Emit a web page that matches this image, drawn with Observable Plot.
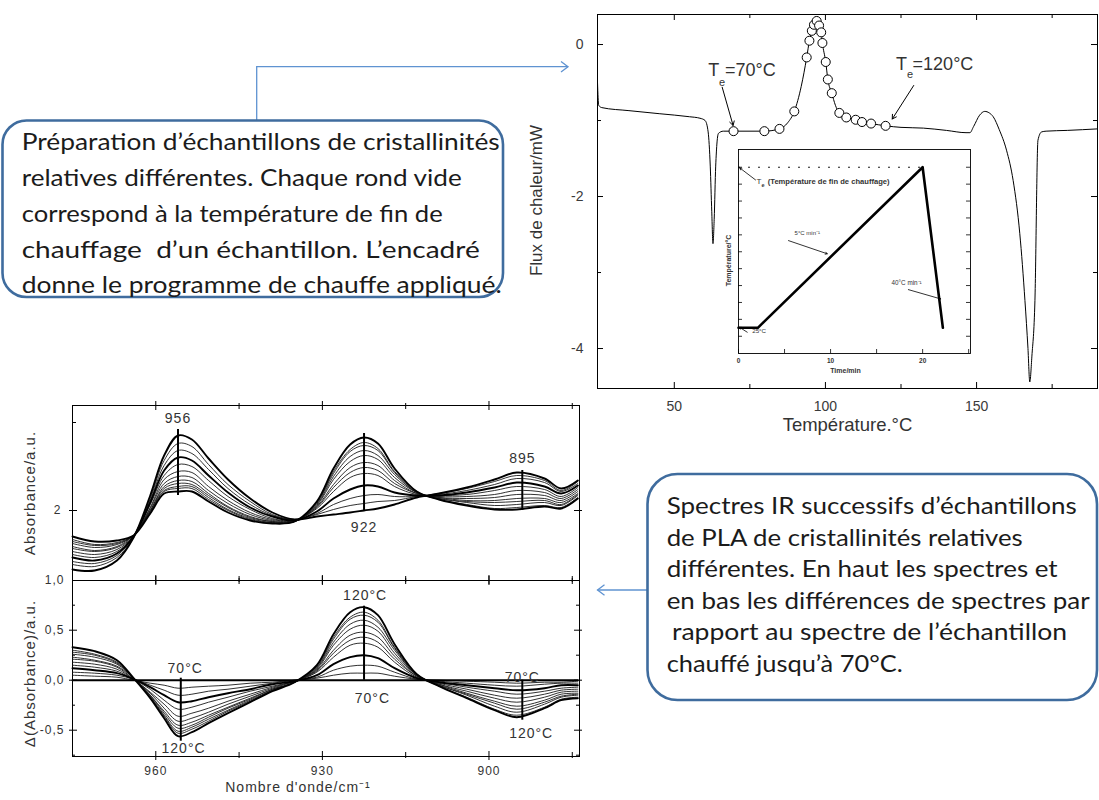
<!DOCTYPE html>
<html><head><meta charset="utf-8">
<script src="https://cdn.jsdelivr.net/npm/d3@7"></script>
<script src="https://cdn.jsdelivr.net/npm/@observablehq/plot@0.6"></script>
<style>
html,body{margin:0;padding:0;background:#fff;}
#root{position:relative;width:1099px;height:800px;overflow:hidden;}
#root > *{position:absolute;}
</style></head><body><div id="root"></div>
<script>
// ---------------- DATA ----------------
// DSC curve (Température °C, Flux de chaleur mW)
const dscT = [24.6,25.0,26.0,35,45,55,58.5,60.2,61.2,61.9,62.4,62.8,63.2,63.7,64.6,66.2,69.6,79.8,84.8,87.5,89.7,92,93.8,94.7,95.5,96.2,97.1,97.9,98.6,99.0,100.1,100.8,102.1,103.3,104.6,106.9,110.0,112.1,115.1,119.9,125,132.4,140,146.5,147.8,149.0,151,152.7,154.2,155.5,157.5,159.9,162.1,164.3,166.0,167.0,167.6,168.3,169.3,170.3,171.5,173,180,190];
const dscFlux = [-0.50,-0.80,-0.83,-0.87,-0.91,-0.95,-0.97,-1.00,-1.15,-1.60,-2.20,-2.62,-2.30,-1.60,-1.17,-1.14,-1.14,-1.14,-1.11,-1.03,-0.88,-0.55,-0.17,0.05,0.18,0.26,0.31,0.25,0.16,0.02,-0.23,-0.46,-0.64,-0.80,-0.90,-0.96,-0.99,-1.02,-1.04,-1.07,-1.09,-1.10,-1.13,-1.16,-1.16,-1.08,-0.93,-0.88,-0.90,-0.95,-1.12,-1.39,-1.79,-2.49,-3.37,-4.0,-4.44,-4.1,-3.37,-1.26,-1.15,-1.14,-1.13,-1.11];
// end-of-heating temperatures (open circles)
const circT = [69.6,79.8,84.8,89.7,93.8,94.7,95.5,96.2,97.1,97.9,98.6,99.0,100.1,100.8,102.1,104.6,106.9,110.0,112.1,115.1,119.9];
const circFlux = [-1.14,-1.14,-1.11,-0.88,-0.17,0.05,0.18,0.26,0.31,0.25,0.16,0.02,-0.23,-0.46,-0.64,-0.90,-0.96,-0.99,-1.02,-1.04,-1.07];
// heating programme (inset)
const progTime = [0, 2.1, 20, 22.2];
const progTemp = [25, 25, 120, 25];
const progTe = 120;
// IR spectra
const wn = [975,971,967,964,961,958.5,956,953.5,950.5,947,943,939,935,931,928,925,922.5,920,917,913,909,904,899,895,890,887,884];
const abs0 = [1.41,1.40,1.50,1.73,2.15,2.55,2.75,2.71,2.52,2.31,2.12,1.98,1.91,1.94,1.96,1.98,2.00,2.02,2.06,2.13,2.17,2.23,2.31,2.38,2.32,2.22,2.30];
const abs1 = [1.46,1.44,1.53,1.73,2.12,2.50,2.67,2.64,2.46,2.26,2.09,1.96,1.91,1.96,2.01,2.05,2.07,2.09,2.10,2.14,2.17,2.22,2.29,2.35,2.30,2.20,2.29];
const abs2 = [1.49,1.47,1.55,1.74,2.10,2.45,2.60,2.57,2.41,2.22,2.06,1.95,1.91,1.97,2.06,2.12,2.15,2.16,2.14,2.14,2.16,2.20,2.26,2.32,2.28,2.19,2.27];
const abs3 = [1.53,1.50,1.57,1.74,2.08,2.40,2.53,2.50,2.35,2.18,2.03,1.94,1.90,1.99,2.12,2.21,2.25,2.24,2.18,2.15,2.15,2.18,2.23,2.28,2.24,2.17,2.25];
const abs4 = [1.56,1.53,1.59,1.74,2.06,2.35,2.46,2.44,2.30,2.14,2.01,1.92,1.90,2.02,2.19,2.33,2.37,2.35,2.24,2.16,2.15,2.16,2.20,2.24,2.21,2.14,2.23];
const abs5 = [1.59,1.56,1.61,1.74,2.03,2.31,2.39,2.38,2.24,2.10,1.98,1.91,1.90,2.03,2.23,2.38,2.43,2.40,2.27,2.17,2.14,2.14,2.16,2.20,2.18,2.12,2.21];
const abs6 = [1.62,1.59,1.63,1.74,2.02,2.27,2.34,2.33,2.20,2.07,1.96,1.90,1.90,2.04,2.26,2.43,2.48,2.45,2.30,2.17,2.13,2.12,2.13,2.16,2.15,2.10,2.19];
const abs7 = [1.64,1.60,1.64,1.75,2.00,2.24,2.30,2.29,2.17,2.04,1.94,1.89,1.89,2.05,2.31,2.49,2.55,2.51,2.33,2.18,2.13,2.10,2.10,2.12,2.12,2.08,2.17];
const abs8 = [1.67,1.63,1.66,1.75,2.00,2.22,2.27,2.26,2.15,2.03,1.93,1.89,1.89,2.06,2.34,2.54,2.60,2.55,2.36,2.18,2.12,2.09,2.08,2.09,2.10,2.06,2.16];
const abs9 = [1.69,1.65,1.67,1.75,1.99,2.20,2.24,2.24,2.13,2.01,1.92,1.88,1.89,2.07,2.37,2.59,2.65,2.60,2.38,2.18,2.12,2.08,2.05,2.06,2.08,2.05,2.15];
const abs10 = [1.71,1.66,1.68,1.75,1.98,2.19,2.22,2.22,2.11,2.00,1.91,1.88,1.89,2.08,2.39,2.61,2.68,2.62,2.39,2.19,2.11,2.06,2.02,2.03,2.05,2.03,2.13];
const abs11 = [1.74,1.69,1.70,1.75,1.97,2.17,2.19,2.19,2.09,1.98,1.90,1.87,1.89,2.09,2.42,2.66,2.73,2.67,2.42,2.19,2.11,2.05,2.01,2.01,2.04,2.02,2.12];
// difference spectra (vs sample heated to 70°C)
const dif0 = [0,0,0,0,0,0,0,0,0,0,0,0,0,0,0,0,0,0,0,0,0,0,0,0,0,0,0];
const dif1 = [0.05,0.04,0.03,0.00,-0.03,-0.05,-0.08,-0.07,-0.06,-0.05,-0.03,-0.02,0.00,0.02,0.05,0.07,0.07,0.07,0.04,0.01,0.00,-0.01,-0.02,-0.03,-0.02,-0.02,-0.01];
const dif2 = [0.08,0.07,0.05,0.01,-0.05,-0.10,-0.15,-0.14,-0.11,-0.09,-0.06,-0.03,0.00,0.03,0.10,0.14,0.15,0.14,0.08,0.01,-0.01,-0.03,-0.05,-0.06,-0.04,-0.03,-0.03];
const dif3 = [0.12,0.10,0.07,0.01,-0.07,-0.15,-0.22,-0.21,-0.17,-0.13,-0.09,-0.04,-0.01,0.05,0.16,0.23,0.25,0.22,0.12,0.02,-0.02,-0.05,-0.08,-0.10,-0.08,-0.05,-0.05];
const dif4 = [0.15,0.13,0.09,0.01,-0.09,-0.20,-0.29,-0.27,-0.22,-0.17,-0.11,-0.06,-0.01,0.08,0.23,0.35,0.37,0.33,0.18,0.03,-0.02,-0.07,-0.11,-0.14,-0.11,-0.08,-0.07];
const dif5 = [0.18,0.16,0.11,0.01,-0.12,-0.24,-0.36,-0.33,-0.28,-0.21,-0.14,-0.07,-0.01,0.09,0.27,0.40,0.43,0.38,0.21,0.04,-0.03,-0.09,-0.15,-0.18,-0.14,-0.10,-0.09];
const dif6 = [0.21,0.19,0.13,0.01,-0.13,-0.28,-0.41,-0.38,-0.32,-0.24,-0.16,-0.08,-0.01,0.10,0.30,0.45,0.48,0.43,0.24,0.04,-0.04,-0.11,-0.18,-0.22,-0.17,-0.12,-0.11];
const dif7 = [0.23,0.20,0.14,0.02,-0.15,-0.31,-0.45,-0.42,-0.35,-0.27,-0.18,-0.09,-0.02,0.11,0.35,0.51,0.55,0.49,0.27,0.05,-0.04,-0.13,-0.21,-0.26,-0.20,-0.14,-0.13];
const dif8 = [0.26,0.23,0.16,0.02,-0.15,-0.33,-0.48,-0.45,-0.37,-0.28,-0.19,-0.09,-0.02,0.12,0.38,0.56,0.60,0.53,0.30,0.05,-0.05,-0.14,-0.23,-0.29,-0.22,-0.16,-0.14];
const dif9 = [0.28,0.25,0.17,0.02,-0.16,-0.35,-0.51,-0.47,-0.39,-0.30,-0.20,-0.10,-0.02,0.13,0.41,0.61,0.65,0.58,0.32,0.05,-0.05,-0.15,-0.26,-0.32,-0.24,-0.17,-0.15];
const dif10 = [0.30,0.26,0.18,0.02,-0.17,-0.36,-0.53,-0.49,-0.41,-0.31,-0.21,-0.10,-0.02,0.14,0.43,0.63,0.68,0.60,0.33,0.06,-0.06,-0.17,-0.29,-0.35,-0.27,-0.19,-0.17];
const dif11 = [0.33,0.29,0.20,0.02,-0.18,-0.38,-0.56,-0.52,-0.43,-0.33,-0.22,-0.11,-0.02,0.15,0.46,0.68,0.73,0.65,0.36,0.06,-0.06,-0.18,-0.30,-0.37,-0.28,-0.20,-0.18];
// band markers
const bandWn = [956, 922.5, 894];
const bandLabels = ["956", "922", "895"];

// ---------------- HELPERS ----------------
const root = document.getElementById("root");
function place(el, left, top) { el.style.position = "absolute"; el.style.left = left + "px"; el.style.top = top + "px"; root.appendChild(el); return el; }
const FONT = "'Liberation Sans', Arial, sans-serif";
function ticksX(vals, side, fh, inLen, outLen = 0, sw = 1) {
  return Plot.ruleX(vals, side === "bottom"
    ? {x: d => d, insetTop: fh - inLen, insetBottom: -outLen, stroke: "#000", strokeWidth: sw}
    : {x: d => d, insetBottom: fh - inLen, insetTop: -outLen, stroke: "#000", strokeWidth: sw});
}
function ticksY(vals, side, fw, inLen, outLen = 0, sw = 1) {
  return Plot.ruleY(vals, side === "left"
    ? {y: d => d, insetRight: fw - inLen, insetLeft: -outLen, stroke: "#000", strokeWidth: sw}
    : {y: d => d, insetLeft: fw - inLen, insetRight: -outLen, stroke: "#000", strokeWidth: sw});
}

// ---------------- DSC ----------------
const dscRows = dscT.map((t, i) => ({t, f: dscFlux[i]}));
const circRows = circT.map((t, i) => ({t, f: circFlux[i]}));
const c0 = circRows[0], cN = circRows[circRows.length - 1];
const dscFW = 500, dscFH = 374;
const dsc = Plot.plot({
  width: 599, height: 450, marginLeft: 97, marginRight: 2, marginTop: 14, marginBottom: 62,
  style: {fontFamily: FONT, fontSize: "14px", color: "#3a3a3a", background: "transparent", overflow: "visible"},
  x: {domain: [24.6, 190], ticks: [50, 100, 150], tickSize: 0, tickPadding: 13, label: null},
  y: {domain: [-4.526, 0.395], ticks: [0, -2, -4], tickSize: 0, tickPadding: 14, label: null, tickFormat: d => String(d)},
  marks: [
    Plot.frame({stroke: "#000", strokeWidth: 1}),
    ticksX([50, 100, 150], "bottom", dscFH, 6), ticksX([75, 125, 175], "bottom", dscFH, 4),
    ticksX([50, 100, 150], "top", dscFH, 6), ticksX([75, 125, 175], "top", dscFH, 4),
    ticksY([0, -2, -4], "left", dscFW, 6), ticksY([-1, -3], "left", dscFW, 4),
    ticksY([0, -2, -4], "right", dscFW, 6), ticksY([-1, -3], "right", dscFW, 4),
    Plot.line(dscRows, {x: "t", y: "f", curve: "monotone-x", stroke: "#000", strokeWidth: 1}),
    Plot.dot(circRows, {x: "t", y: "f", r: 4.5, fill: "white", stroke: "#000", strokeWidth: 1}),
    Plot.arrow([{x1: 65.85, y1: -0.562, x2: c0.t - 0.15, y2: c0.f + 0.075}], {x1: "x1", y1: "y1", x2: "x2", y2: "y2", stroke: "#000", strokeWidth: 1, headLength: 7}),
    Plot.arrow([{x1: 129.2, y1: -0.539, x2: cN.t + 2.2, y2: cN.f + 0.09}], {x1: "x1", y1: "y1", x2: "x2", y2: "y2", stroke: "#000", strokeWidth: 1, headLength: 7}),
    Plot.text([c0], {x: "t", y: "f", text: () => "T", dx: -25.3, dy: -60.7, textAnchor: "start", fontSize: 18, fill: "#333"}),
    Plot.text([c0], {x: "t", y: "f", text: () => "e", dx: -14.5, dy: -49, textAnchor: "start", fontSize: 11, fill: "#333"}),
    Plot.text([c0], {x: "t", y: "f", text: () => "=70°C", dx: -8.5, dy: -60.7, textAnchor: "start", fontSize: 18, fill: "#333"}),
    Plot.text([cN], {x: "t", y: "f", text: () => "T", dx: 10.3, dy: -61.7, textAnchor: "start", fontSize: 18, fill: "#333"}),
    Plot.text([cN], {x: "t", y: "f", text: () => "e", dx: 21.3, dy: -51, textAnchor: "start", fontSize: 11, fill: "#333"}),
    Plot.text([cN], {x: "t", y: "f", text: () => "=120°C", dx: 27, dy: -61.7, textAnchor: "start", fontSize: 18, fill: "#333"}),
    Plot.text(["Flux de chaleur/mW"], {frameAnchor: "left", textAnchor: "middle", text: d => d, rotate: -90, dx: -61, dy: -1, fontSize: 17, fill: "#333"}),
    Plot.text(["Température.°C"], {frameAnchor: "bottom", text: d => d, dy: 42, fontSize: 18.5, fill: "#333"})
  ]
});
place(dsc, 500, 0);

// ---------------- INSET (heating programme) ----------------
const progRows = progTime.map((t, i) => ({t, T: progTemp[i]}));
const inFW = 232, inFH = 204;
const inset = Plot.plot({
  width: 265, height: 240, marginLeft: 26, marginRight: 7, marginTop: 9, marginBottom: 27,
  style: {fontFamily: FONT, fontSize: "6.5px", fontWeight: "bold", color: "#333", background: "transparent", overflow: "visible"},
  x: {domain: [0, 25.2], ticks: [0, 10, 20], tickSize: 0, tickPadding: 5, label: null},
  y: {domain: [9.8, 130.5], axis: null},
  marks: [
    Plot.frame({fill: "white", stroke: "#000", strokeWidth: 0.9}),
    ticksX([0, 5, 10, 15, 20, 25], "bottom", inFH, 4, 0, 0.8),
    ticksY(d3.range(20, 121, 10), "left", inFW, 4, 0, 0.8),
    ticksY(d3.range(20, 121, 10), "right", inFW, 4, 0, 0.8),
    Plot.ruleY([progTe], {x1: 0, x2: progTime[2], stroke: "#000", strokeWidth: 0.9, strokeDasharray: "2,8"}),
    Plot.line(progRows, {x: "t", y: "T", stroke: "#000", strokeWidth: 2.6}),
    Plot.arrow([{x1: 1.85, y1: 112.5, x2: 0.14, y2: 119.6}, {x1: 5.43, y1: 76.6, x2: 9.64, y2: 68.8},
                {x1: 18.45, y1: 47.6, x2: 21.96, y2: 42.1}, {x1: 0.95, y1: 22.4, x2: 0.11, y2: 25.3}],
      {x1: "x1", y1: "y1", x2: "x2", y2: "y2", stroke: "#000", strokeWidth: 0.8, headLength: 4}),
    Plot.text([{t: 1.96, T: 111.7}], {x: "t", y: "T", text: () => "T", textAnchor: "start", fontSize: 8, fontWeight: "normal"}),
    Plot.text([{t: 2.5, T: 109.6}], {x: "t", y: "T", text: () => "e", textAnchor: "start", fontSize: 5.5}),
    Plot.text([{t: 3.18, T: 111.7}], {x: "t", y: "T", text: () => "(Température de fin de chauffage)", textAnchor: "start", fontSize: 7.6}),
    Plot.text([{t: 6.09, T: 81.2}], {x: "t", y: "T", text: () => "5°C min⁻¹", textAnchor: "start", fontSize: 6, fontWeight: "normal"}),
    Plot.text([{t: 16.63, T: 51.6}], {x: "t", y: "T", text: () => "40°C min⁻¹", textAnchor: "start", fontSize: 6.3, fontWeight: "normal"}),
    Plot.text([{t: 1.49, T: 23.0}], {x: "t", y: "T", text: () => "25°C", textAnchor: "start", fontSize: 6.2, fontWeight: "normal"}),
    Plot.text(["Température/°C"], {frameAnchor: "left", textAnchor: "middle", text: d => d, rotate: -90, dx: -10, dy: 9, fontSize: 7}),
    Plot.text(["Time/min"], {frameAnchor: "bottom", text: d => d, dy: 19, dx: -9, fontSize: 7})
  ]
});
place(inset, 712, 140);

// ---------------- IR SPECTRA ----------------
const absSeries = [abs0, abs1, abs2, abs3, abs4, abs5, abs6, abs7, abs8, abs9, abs10, abs11];
const difSeries = [dif0, dif1, dif2, dif3, dif4, dif5, dif6, dif7, dif8, dif9, dif10, dif11];
const boldSet = new Set([0, 3, 11]);
const absRows = absSeries.flatMap((s, k) => s.map((v, i) => ({w: wn[i], v, k})));
const difRows = difSeries.flatMap((s, k) => s.map((v, i) => ({w: wn[i], v, k})));
const irXDomain = [975, 883.7];
const irFW = 507;
const comma = d => d.toFixed(1).replace(".", ",");
const irStyle = {fontFamily: FONT, fontSize: "12px", color: "#333", background: "transparent", overflow: "visible", letterSpacing: "1px"};

const topFH = 175;
const irTop = Plot.plot({
  width: 600, height: 186, marginLeft: 72, marginRight: 21, marginTop: 10, marginBottom: 1,
  style: irStyle,
  x: {domain: irXDomain, axis: null},
  y: {domain: [1.30, 3.05], ticks: [2], tickSize: 0, tickPadding: 11, tickFormat: d => String(d), label: null},
  marks: [
    Plot.frame({stroke: "#000", strokeWidth: 1}),
    ticksX([960, 930, 900], "top", topFH, 5, 4), ticksX([945, 915, 885], "top", topFH, 4, 2),
    ticksX([960, 930, 900], "bottom", topFH, 5, 4), ticksX([945, 915, 885], "bottom", topFH, 4, 2),
    ticksY([2], "left", irFW, 5, 3), ticksY([2], "right", irFW, 5, 3),
    ticksY([2.88], "left", irFW, 4, 0),
    Plot.line(absRows.filter(d => !boldSet.has(d.k)), {x: "w", y: "v", z: "k", curve: "catmull-rom", stroke: "#1a1a1a", strokeWidth: 0.9}),
    Plot.line(absRows.filter(d => boldSet.has(d.k)), {x: "w", y: "v", z: "k", curve: "catmull-rom", stroke: "#000", strokeWidth: 1.9}),
    Plot.ruleX([{w: bandWn[0], a: 2.81, b: 2.15}, {w: bandWn[1], a: 2.77, b: 2.00}, {w: bandWn[2], a: 2.40, b: 2.00}],
      {x: "w", y1: "a", y2: "b", stroke: "#000", strokeWidth: 2}),
    Plot.text([{w: bandWn[0], v: 2.92, s: bandLabels[0]}, {w: bandWn[1], v: 1.83, s: bandLabels[1]}, {w: bandWn[2], v: 2.52, s: bandLabels[2]}],
      {x: "w", y: "v", text: "s", fontSize: 14, fill: "#333"}),
    Plot.text(["Absorbance/a.u."], {frameAnchor: "left", textAnchor: "middle", text: d => d, rotate: -90, dx: -42, fontSize: 15, fill: "#333"})
  ]
});
place(irTop, 0, 395);

const botFH = 176;
const irBot = Plot.plot({
  width: 600, height: 221, marginLeft: 72, marginRight: 21, marginTop: 1, marginBottom: 44,
  style: irStyle,
  x: {domain: irXDomain, ticks: [960, 930, 900], tickSize: 0, tickPadding: 10, label: null},
  y: {domain: [-0.763, 0.997], ticks: [1, 0.5, 0, -0.5], tickSize: 0, tickPadding: 8, tickFormat: comma, label: null},
  marks: [
    Plot.frame({stroke: "#000", strokeWidth: 1}),
    ticksX([960, 930, 900], "bottom", botFH, 5, 4), ticksX([945, 915, 885], "bottom", botFH, 4, 2),
    ticksX([960, 930, 900], "top", botFH, 5, 4), ticksX([945, 915, 885], "top", botFH, 4, 2),
    ticksY([0.5, 0, -0.5], "left", irFW, 5, 3), ticksY([0.75, 0.25, -0.25, -0.75], "left", irFW, 3, 0),
    ticksY([0.5, 0, -0.5], "right", irFW, 5, 3), ticksY([0.75, 0.25, -0.25, -0.75], "right", irFW, 3, 0),
    Plot.line(difRows.filter(d => !boldSet.has(d.k)), {x: "w", y: "v", z: "k", curve: "catmull-rom", stroke: "#1a1a1a", strokeWidth: 0.9}),
    Plot.line(difRows.filter(d => boldSet.has(d.k)), {x: "w", y: "v", z: "k", curve: "catmull-rom", stroke: "#000", strokeWidth: 1.9}),
    Plot.ruleX([{w: 955.5, a: 0.02, b: -0.61}, {w: bandWn[1], a: 0.74, b: 0}, {w: bandWn[2], a: 0, b: -0.40}],
      {x: "w", y1: "a", y2: "b", stroke: "#000", strokeWidth: 2}),
    Plot.text([
      {w: 954.7, v: 0.117, s: "70°C"}, {w: 955.0, v: -0.683, s: "120°C"},
      {w: 922.3, v: 0.85, s: "120°C"}, {w: 921.0, v: -0.18, s: "70°C"},
      {w: 894.0, v: 0.03, s: "70°C"}, {w: 892.4, v: -0.53, s: "120°C"}],
      {x: "w", y: "v", text: "s", fontSize: 14, fill: "#333"}),
    Plot.text(["Δ(Absorbance)/a.u."], {frameAnchor: "left", textAnchor: "middle", text: d => d, rotate: -90, dx: -42, dy: 5, fontSize: 15, fill: "#333"}),
    Plot.text(["Nombre d'onde/cm⁻¹"], {frameAnchor: "bottom", text: d => d, dy: 35, dx: -28, fontSize: 14, fill: "#333"})
  ]
});
place(irBot, 0, 579);

// ---------------- CALLOUT BOXES ----------------
const ov = d3.create("svg").attr("width", 1099).attr("height", 800)
  .style("position", "absolute").style("left", "0px").style("top", "0px").style("pointer-events", "none");
const connector = "#5f93d1", border = "#3f6c9e";
ov.append("polyline").attr("points", "256.7,120 256.7,66.7 568,66.7").attr("fill", "none").attr("stroke", connector).attr("stroke-width", 1.3);
ov.append("polyline").attr("points", "561,61.5 568,66.7 561,71.9").attr("fill", "none").attr("stroke", connector).attr("stroke-width", 1.3);
ov.append("line").attr("x1", 648).attr("y1", 590).attr("x2", 597.5).attr("y2", 590).attr("stroke", connector).attr("stroke-width", 1.3);
ov.append("polyline").attr("points", "604.5,584.8 597.5,590 604.5,595.2").attr("fill", "none").attr("stroke", connector).attr("stroke-width", 1.3);
ov.append("rect").attr("x", 2.5).attr("y", 120.5).attr("width", 500.5).attr("height", 176.5).attr("rx", 24)
  .attr("fill", "none").attr("stroke", border).attr("stroke-width", 2.6);
ov.append("rect").attr("x", 647.5).attr("y", 474).attr("width", 449.5).attr("height", 226).attr("rx", 30)
  .attr("fill", "none").attr("stroke", border).attr("stroke-width", 2.6);
const box1 = [
  ["Préparation d’échantillons de cristallinités", 21.7, 150, 478],
  ["relatives différentes. Chaque rond vide", 21.7, 186, 440],
  ["correspond à la température de fin de", 21.7, 222, 421],
  ["chauffage  d’un échantillon. L’encadré", 21.7, 258, 458],
  ["donne le programme de chauffe appliqué.", 21.7, 293, 480]
];
const box2 = [
  ["Spectres IR successifs d’échantillons", 666.7, 514, 410],
  ["de PLA de cristallinités relatives", 666.7, 546, 356],
  ["différentes. En haut les spectres et", 666.7, 577, 391],
  ["en bas les différences de spectres par", 666.7, 609, 423],
  ["rapport au spectre de l’échantillon", 672, 640, 395],
  ["chauffé jusqu’à 70°C.", 666.7, 672, 236]
];
function writeLines(lines, size) {
  for (const [s, x, y, w] of lines) {
    ov.append("text").attr("x", x).attr("y", y).attr("textLength", w).attr("lengthAdjust", "spacingAndGlyphs")
      .attr("xml:space", "preserve").attr("font-family", "Lato, 'Open Sans', sans-serif").attr("font-size", size)
      .attr("fill", "#1b1b1b").text(s);
  }
}
writeLines(box1, 24);
writeLines(box2, 23);
root.appendChild(ov.node());
</script></body></html>
